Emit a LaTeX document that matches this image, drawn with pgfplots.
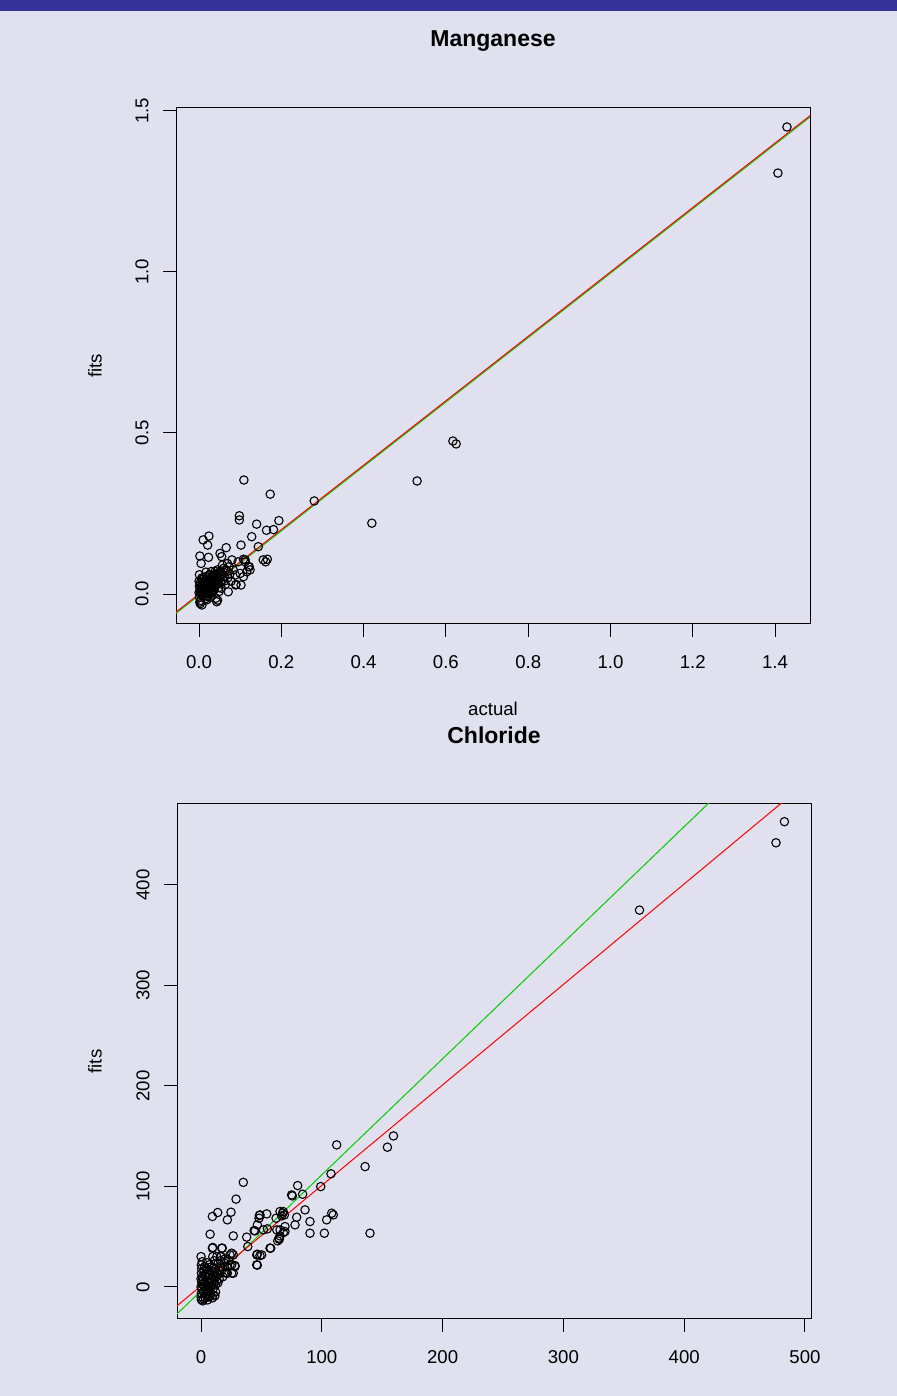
\documentclass[border=0pt]{standalone}
\usepackage{pgfplots}
\pgfplotsset{compat=1.18}
\usepackage{fontspec}
\setmainfont{Liberation Sans}
\definecolor{bg}{RGB}{224,224,238}
\definecolor{topbar}{RGB}{51,51,153}
\definecolor{rgreen}{RGB}{0,205,0}
\definecolor{rred}{RGB}{255,0,0}

\pgfplotstableread{
x y
0.000 0.005
0.001 -0.010
0.002 0.020
0.003 0.035
0.004 -0.020
0.005 0.010
0.006 0.045
0.007 -0.034
0.008 0.000
0.009 0.030
0.010 0.015
0.011 -0.005
0.012 0.050
0.013 0.025
0.014 0.040
0.015 -0.015
0.016 0.005
0.017 0.030
0.018 0.055
0.019 0.012
0.020 0.020
0.021 -0.008
0.022 0.035
0.023 0.045
0.024 0.015
0.025 0.000
0.026 0.028
0.027 0.060
0.028 0.040
0.029 0.010
0.030 0.022
0.031 0.050
0.032 0.033
0.033 0.005
0.034 0.045
0.035 0.025
0.036 0.060
0.037 0.015
0.038 0.038
0.039 0.070
0.040 0.050
0.041 -0.013
0.042 0.030
0.043 -0.024
0.044 0.058
0.045 -0.019
0.046 0.040
0.047 0.065
0.048 0.020
0.050 0.050
0.051 0.126
0.052 0.072
0.053 0.035
0.055 0.116
0.056 0.060
0.058 0.045
0.060 0.080
0.062 0.055
0.064 0.030
0.066 0.144
0.068 0.070
0.070 0.050
0.071 0.007
0.073 0.085
0.075 0.062
0.078 0.040
0.080 0.106
0.083 0.075
0.088 0.059
0.089 0.028
0.090 0.030
0.000 0.040
0.001 0.060
0.002 0.118
0.003 -0.030
0.005 0.095
0.010 0.168
0.021 0.152
0.023 0.114
0.024 0.180
0.006 0.025
0.004 0.015
0.007 0.050
0.009 -0.002
0.012 0.008
0.015 0.035
0.018 -0.005
0.020 0.045
0.025 0.060
0.028 -0.010
0.030 0.070
0.033 0.055
0.036 0.012
0.040 0.028
0.045 0.075
0.002 -0.025
0.001 0.025
0.003 0.008
0.008 0.018
0.011 0.038
0.014 0.002
0.017 0.068
0.019 -0.018
0.022 0.008
0.026 0.048
0.031 0.002
0.035 0.040
0.038 0.020
0.042 0.062
0.047 0.032
0.049 0.008
0.054 0.018
0.057 0.090
0.061 0.040
0.065 0.075
0.069 0.095
0.098 0.243
0.098 0.230
0.109 0.354
0.173 0.310
0.140 0.217
0.194 0.228
0.181 0.200
0.164 0.198
0.128 0.178
0.144 0.147
0.102 0.152
0.108 0.108
0.156 0.106
0.166 0.108
0.162 0.100
0.120 0.085
0.112 0.100
0.100 0.064
0.108 0.054
0.102 0.028
0.124 0.075
0.116 0.069
0.122 0.085
0.112 0.106
0.095 0.100
0.280 0.289
0.420 0.220
0.530 0.351
0.617 0.475
0.625 0.466
1.407 1.307
1.429 1.450
}\mangtable

\pgfplotstableread{
x y
483 463
476 442
363 375
159.3 150.2
154.3 139
135.8 119.7
139.9 53.4
112.3 141.3
107.6 112.5
99.1 99.8
35 104
80 100.8
75 91.5
75.6 90.5
84.1 92.2
29 87.3
13.8 74
9.4 70
24.8 74.3
21.8 66.7
48.8 71.6
48 68.3
54.4 72.6
65.4 75
67.6 73.3
66.8 70.6
69 71.6
68.1 74.9
86.1 76.6
79.2 69.3
77.8 61.7
90.2 65
108.2 73.3
109.5 71.6
104 66.7
90.2 53.4
102.1 53.4
65.4 56.7
69.5 60
62.7 56.7
64.6 48.5
63.5 45.8
65.4 50.7
64.8 47.4
69.5 55
68.1 54
62.1 68.3
57.1 38.5
43.9 56
51.6 56.7
54.9 57.7
37.8 49.5
38.7 40.1
26.7 50.7
7.5 52.4
46.1 31.8
50.2 31.8
48.8 31.1
46.6 32.5
46.6 21.6
46.1 21.9
9.4 38.5
17.6 38.5
9.7 39.2
17.1 38.5
13 30.1
16.6 30.1
9.7 30.1
16.3 30.1
14.3 23.6
24 31.8
25.4 33.5
26.7 31.8
25.4 21.9
24 21.9
28.1 20.2
28.1 21.2
21.3 13.6
21.8 13.6
26.7 13.6
25.4 13.6
0 30.1
0.3 21.9
0.3 13.6
0.5 5.3
0.3 -6.3
0.3 -12.9
0 -10
0.5 -2
0 0
1 3
0 8
1 10
0.5 18
1 25
2 -12
2 -5
2.5 0
3 4
2 7
3 12
2.5 16
3 20
4 -8
4 -3
4.5 2
5 6
4 10
5 14
4.5 18
5 24
6 -10
6 -4
6.5 1
7 5
6 9
7 13
6.5 17
7 22
8 -6
8 0
8.5 4
9 8
8 12
9 16
8.5 20
10 -8
10 -2
10.5 3
11 7
10 11
11 15
10.5 19
11 26
12 -5
12 2
13 6
12.5 10
13 14
12 18
14 4
14 12
15 8
15 16
16 20
16 26
18 10
18 18
19 24
20 14
20 28
22 20
23 26
1.5 -14
3.5 -11
5.5 -13
7.5 -9
9.5 -11
11.5 -9
46.6 61.7
57.7 38.5
44.7 55.7
48.3 71
}\chlortable

\pgfplotsset{
  rbase/.style={
    scale only axis,
    width=317pt,
    axis line style={black, line width=0.5pt},
    tick align=outside,
    xtick pos=left, ytick pos=left,
    major tick length=6.5pt,
    tick style={black, line width=0.5pt},
    tick label style={font=\fontsize{9.3}{11}\selectfont},
    /pgf/number format/assume math mode=true,
    xticklabel style={anchor=center, yshift=-12.5pt},
    yticklabel style={anchor=center, xshift=-10.5pt, rotate=90},
    title style={font=\bfseries\fontsize{11.5}{14}\selectfont, anchor=center},
    label style={font=\fontsize{9.3}{11}\selectfont},
    clip=true,
  },
  rpts/.style={only marks, mark=o, mark size=2.1pt, mark options={black, line width=0.55pt}},
}

\begin{document}
\begin{tikzpicture}
\path[use as bounding box, fill=bg] (0,0) rectangle (448.5pt,698pt);
\fill[topbar] (0,692.5pt) rectangle (448.5pt,698pt);

\begin{axis}[rbase,
  at={(88pt,386pt)}, anchor=south west,
  height=258pt,
  xmin=-0.056, xmax=1.485, ymin=-0.093, ymax=1.509,
  xtick={0,0.2,0.4,0.6,0.8,1.0,1.2,1.4},
  ytick={0,0.5,1.0,1.5},
  xticklabel style={/pgf/number format/.cd, fixed, fixed zerofill, precision=1},
  yticklabel style={/pgf/number format/.cd, fixed, fixed zerofill, precision=1},
  title={Manganese},
  title style={at={(axis description cs:0.5,1.1066)}},
  xlabel={actual},
  xlabel style={at={(axis description cs:0.5,-0.1647)}, anchor=center},
  ylabel={fits},
  ylabel style={at={(axis description cs:-0.1278,0.5)}, anchor=center},
]
\addplot[rpts] table {\mangtable};
\addplot[rgreen, line width=0.5pt] coordinates {(-0.2,-0.204) (1.7,1.696)};
\addplot[rred, line width=0.5pt] coordinates {(-0.2,-0.2) (1.7,1.7)};
\end{axis}

\begin{axis}[rbase,
  at={(88.5pt,38.5pt)}, anchor=south west,
  height=257.5pt,
  xmin=-19.9, xmax=505, ymin=-32, ymax=480.6,
  xtick={0,100,200,300,400,500},
  ytick={0,100,200,300,400},
  title={Chloride},
  title style={at={(axis description cs:0.5,1.1107)}},
  ylabel={fits},
  ylabel style={at={(axis description cs:-0.1293,0.5)}, anchor=center},
]
\addplot[rpts] table {\chlortable};
\addplot[rgreen, line width=0.5pt] coordinates {(-40,-50.2) (600,689)};
\addplot[rred, line width=0.5pt] coordinates {(-40,-39) (600,601)};
\end{axis}
\end{tikzpicture}
\end{document}
